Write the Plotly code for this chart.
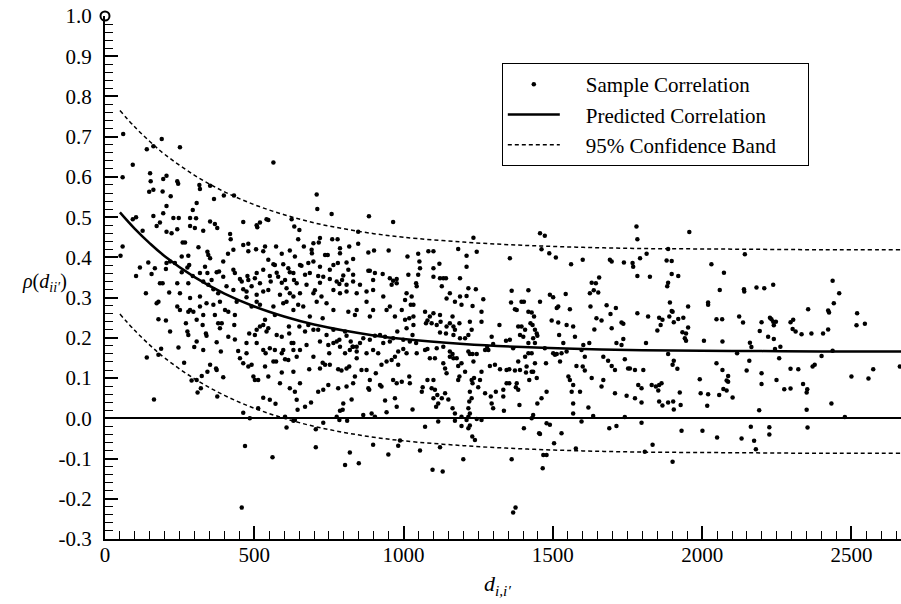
import plotly.graph_objects as go

# ---------------- data ----------------
# Sample correlations, (distance d_ii', rho) pairs, grouped by distance range
samples_0_1000_upper = [
    (61,0.707),(59,0.599),(93,0.630),(140,0.669),(162,0.676),(190,0.694),(251,0.674),(151,0.609),(153,0.589),(195,0.595),
    (206,0.603),(162,0.568),(148,0.563),(193,0.564),(220,0.552),(242,0.589),(245,0.583),(316,0.580),(318,0.570),(352,0.578),
    (564,0.636),(365,0.545),(398,0.554),(432,0.554),(709,0.556),(711,0.520),(307,0.535),(294,0.518),(206,0.528),(195,0.510),
    (162,0.503),(93,0.495),(104,0.500),(126,0.466),(184,0.487),(173,0.478),(206,0.464),(223,0.460),(229,0.498),(247,0.498),
    (242,0.470),(285,0.498),(305,0.497),(285,0.478),(301,0.473),(352,0.489),(368,0.483),(376,0.473),(329,0.466),(419,0.458),
    (421,0.445),(463,0.488),(508,0.480),(519,0.487),(541,0.495),(547,0.493),(510,0.475),(625,0.495),(634,0.477),(651,0.468),
    (647,0.445),(698,0.435),(720,0.448),(716,0.437),(759,0.508),(761,0.445),(779,0.445),(787,0.423),(848,0.464),(884,0.502),
    (965,0.488),(848,0.434),(882,0.412),(901,0.417),(950,0.417),(59,0.427),(52,0.404),(117,0.375),(145,0.387),(104,0.354),
    (156,0.359),(167,0.373),(184,0.336),(193,0.336),(206,0.386),(204,0.371),(218,0.390),(234,0.386),(257,0.402),(260,0.437),
    (268,0.437),(313,0.425),(343,0.414),(346,0.406),(352,0.398),(335,0.377),(279,0.404),(282,0.381),(276,0.375),(294,0.354),
    (257,0.363),(242,0.336),(215,0.313),(251,0.311),(137,0.311),(279,0.336),(343,0.361),(357,0.344),(374,0.363),(382,0.365),
    (396,0.390),(412,0.409),(430,0.419),(463,0.431),(480,0.434),(480,0.415),(506,0.420),(530,0.415),(536,0.427),(547,0.394),
    (573,0.427),(592,0.409),(619,0.417),(636,0.402),(666,0.427),(692,0.419),(693,0.410),(737,0.406),(746,0.406),(787,0.410),
    (818,0.427),(831,0.396),(564,0.383),(569,0.381),(597,0.383),(614,0.373),(631,0.361),(653,0.381),(658,0.379),(681,0.386),
    (698,0.390),(720,0.377),(753,0.369),(765,0.381),(780,0.386),(809,0.387),(815,0.369),(798,0.355),(831,0.357),(882,0.367),
    (887,0.367),(904,0.361),(930,0.359),(954,0.348),(965,0.342),(977,0.346),(430,0.369),(435,0.361),(452,0.346),(458,0.340),
    (477,0.354),(480,0.344),(502,0.348),(508,0.361),(519,0.336),(530,0.369),(552,0.354),(555,0.340),(575,0.362),(580,0.352),
    (592,0.337),(603,0.344),(619,0.363),(633,0.344),(642,0.336),(670,0.357),(686,0.361),(714,0.354),(720,0.337),(731,0.352),
    (753,0.346),(776,0.340),(785,0.334),(794,0.344),(809,0.332),(831,0.340),(854,0.332),(898,0.344),(318,0.361),(329,0.340),
    (346,0.332),(363,0.321),(379,0.311),(396,0.352),(407,0.328),(430,0.319),(463,0.321),(474,0.315),(491,0.328),(508,0.307),
    (530,0.315),(547,0.319),(586,0.307),(608,0.323),(619,0.311),(631,0.303),(653,0.311),(675,0.332),(698,0.311),(703,0.318),
    (725,0.303),(765,0.319),(787,0.311),(809,0.315),(843,0.311),(876,0.315),(898,0.319),(932,0.303),(960,0.332),(977,0.336),
    (318,0.303),(285,0.299),(474,0.301),
]

samples_0_1000_lower = [
    (179,0.290),(173,0.286),(242,0.278),(251,0.269),(279,0.265),(285,0.269),(296,0.265),(318,0.278),(329,0.257),(340,0.286),
    (363,0.282),(368,0.257),(385,0.290),(402,0.269),(413,0.265),(435,0.257),(441,0.290),(491,0.278),(508,0.290),(519,0.282),
    (564,0.278),(569,0.257),(597,0.286),(608,0.290),(631,0.269),(647,0.282),(664,0.278),(686,0.253),(709,0.290),(742,0.286),
    (765,0.269),(815,0.265),(837,0.257),(843,0.269),(876,0.290),(887,0.253),(898,0.269),(943,0.269),(954,0.278),(971,0.253),
    (179,0.246),(204,0.243),(218,0.216),(271,0.236),(276,0.216),(279,0.207),(307,0.245),(327,0.232),(338,0.211),(340,0.205),
    (379,0.236),(385,0.224),(391,0.236),(413,0.203),(433,0.232),(435,0.196),(483,0.211),(502,0.207),(508,0.220),(519,0.228),
    (530,0.232),(536,0.245),(541,0.216),(547,0.224),(575,0.207),(592,0.203),(616,0.228),(617,0.211),(631,0.187),(651,0.228),
    (670,0.216),(681,0.232),(698,0.220),(714,0.220),(729,0.249),(742,0.207),(765,0.220),(785,0.195),(804,0.216),(809,0.205),
    (823,0.191),(829,0.178),(843,0.178),(865,0.199),(887,0.195),(904,0.205),(921,0.207),(938,0.203),(954,0.191),(965,0.199),
    (979,0.216),(246,0.176),(188,0.173),(140,0.151),(179,0.158),(307,0.191),(299,0.177),(329,0.170),(374,0.189),(388,0.166),
    (446,0.167),(474,0.187),(474,0.162),(508,0.187),(530,0.170),(538,0.162),(552,0.174),(569,0.170),(573,0.141),(592,0.162),
    (597,0.170),(603,0.147),(614,0.145),(625,0.187),(631,0.170),(642,0.153),(653,0.170),(675,0.182),(698,0.153),(720,0.191),
    (748,0.182),(751,0.162),(765,0.187),(776,0.191),(787,0.178),(804,0.162),(820,0.170),(831,0.178),(843,0.166),(854,0.187),
    (876,0.162),(898,0.170),(915,0.162),(932,0.187),(960,0.145),(971,0.153),(982,0.166),(265,0.138),(352,0.133),(372,0.124),
    (374,0.120),(343,0.116),(324,0.105),(290,0.094),(307,0.095),(396,0.102),(452,0.149),(463,0.137),(480,0.129),(491,0.133),
    (497,0.104),(502,0.095),(513,0.095),(536,0.129),(547,0.104),(564,0.141),(592,0.114),(631,0.116),(653,0.087),(684,0.122),
    (720,0.124),(729,0.138),(737,0.133),(753,0.133),(781,0.122),(792,0.119),(809,0.124),(818,0.129),(837,0.104),(843,0.149),
    (859,0.120),(876,0.120),(887,0.095),(907,0.112),(926,0.133),(943,0.141),(965,0.095),(977,0.087),(982,0.133),(321,0.075),
    (310,0.064),(376,0.054),(463,0.014),(485,0.000),(513,0.025),(530,0.051),(552,0.046),(571,0.036),(586,0.087),(603,0.004),
    (619,0.075),(636,0.066),(642,0.046),(645,0.021),(670,0.029),(690,0.039),(714,0.066),(731,0.071),(748,0.083),(776,0.004),
    (781,0.075),(787,0.019),(796,0.021),(798,0.037),(809,0.079),(826,0.047),(831,0.087),(865,0.008),(882,0.075),(885,0.071),
    (893,0.012),(904,0.004),(921,0.083),(926,0.079),(938,0.044),(943,0.015),(971,0.050),(977,0.029),(164,0.047),(608,-0.023),
    (636,-0.004),(706,-0.027),(731,-0.011),(785,-0.004),(811,-0.006),(469,-0.069),(561,-0.097),(706,-0.072),(804,-0.116),
    (820,-0.085),(850,-0.112),(898,-0.066),(949,-0.090),(982,-0.068),(631,-0.006),(458,-0.222),
]

samples_1000_1825 = [
    (1457,0.460),(1473,0.454),(1780,0.477),(1783,0.445),(1234,0.449),(1211,0.404),(1245,0.414),(1183,0.421),(1013,0.402),(1049,0.409),
    (1053,0.390),(1055,0.373),(1049,0.357),(1016,0.357),(1100,0.373),(1120,0.384),(1083,0.415),(1100,0.415),(1133,0.348),(1142,0.348),
    (1122,0.348),(1128,0.328),(1100,0.352),(1042,0.336),(1044,0.328),(1010,0.311),(1027,0.303),(1033,0.282),(1005,0.294),(1024,0.282),
    (994,0.269),(1033,0.253),(1019,0.249),(1005,0.245),(1033,0.232),(1010,0.224),(1030,0.207),(1042,0.187),(999,0.195),(1021,0.191),
    (1072,0.265),(1088,0.253),(1080,0.243),(1100,0.261),(1075,0.236),(1094,0.236),(1111,0.232),(1122,0.257),(1124,0.240),(1144,0.228),
    (1122,0.213),(1142,0.211),(1155,0.236),(1164,0.253),(1167,0.228),(1172,0.220),(1167,0.207),(1144,0.298),(1155,0.311),(1172,0.290),
    (1189,0.303),(1194,0.282),(1211,0.304),(1217,0.323),(1242,0.321),(1231,0.279),(1261,0.265),(1261,0.240),(1267,0.296),(1222,0.240),
    (1217,0.207),(1228,0.220),(1206,0.199),(1187,0.236),(1189,0.199),(1189,0.348),(1211,0.377),(1133,0.178),(1111,0.174),(1105,0.149),
    (1088,0.149),(1080,0.172),(1072,0.170),(1044,0.162),(1010,0.162),(999,0.172),(994,0.091),(1021,0.087),(1019,0.104),(1064,0.077),
    (1061,0.066),(1080,0.095),(1100,0.095),(1094,0.075),(1105,0.071),(1113,0.058),(1100,0.050),(1116,0.037),(1109,0.029),(1128,0.050),
    (1139,0.062),(1150,0.047),(1164,0.025),(1172,0.012),(1030,0.022),(1072,-0.021),(1116,-0.008),(1172,-0.006),(1194,-0.019),(1217,-0.025),
    (1222,-0.018),(1211,-0.004),(1245,-0.002),(1261,-0.004),(1194,0.004),(1230,-0.045),(1239,-0.054),(1055,-0.080),(1122,-0.072),(1200,-0.102),
    (1097,-0.128),(1131,-0.132),(988,-0.055),(1133,0.137),(1139,0.124),(1144,0.112),(1155,0.166),(1155,0.153),(1164,0.160),(1167,0.149),
    (1178,0.149),(1183,0.130),(1194,0.137),(1187,0.104),(1183,0.095),(1206,0.116),(1217,0.166),(1222,0.160),(1231,0.160),(1234,0.141),
    (1245,0.160),(1261,0.116),(1228,0.095),(1231,0.087),(1236,0.100),(1256,0.095),(1250,0.077),(1222,0.066),(1228,0.050),(1220,0.042),
    (1217,0.025),(1222,0.012),(1217,0.004),(1273,0.062),(1292,0.054),(1295,0.037),(1300,0.025),(1309,0.066),(1334,0.071),(1334,0.054),
    (1336,0.019),(1345,0.087),(1354,0.087),(1376,0.077),(1384,0.071),(1388,0.033),(1379,0.087),(1289,0.130),(1306,0.133),(1323,0.122),
    (1345,0.120),(1354,0.122),(1373,0.119),(1384,0.141),(1390,0.120),(1407,0.153),(1412,0.129),(1410,0.114),(1421,0.095),(1429,0.116),
    (1434,0.116),(1446,0.100),(1440,0.137),(1429,0.162),(1418,0.162),(1367,0.174),(1356,0.195),(1343,0.193),(1321,0.232),(1295,0.203),
    (1280,0.178),(1273,0.170),(1284,0.170),(1300,0.185),(1362,0.317),(1360,0.288),(1373,0.271),(1379,0.269),(1395,0.290),(1403,0.290),
    (1418,0.318),(1418,0.265),(1429,0.263),(1437,0.253),(1425,0.236),(1432,0.232),(1440,0.220),(1446,0.211),(1448,0.205),(1434,0.199),
    (1440,0.187),(1418,0.187),(1384,0.228),(1395,0.228),(1390,0.207),(1401,0.203),(1407,0.220),(1457,0.290),(1356,0.398),(1490,0.307),
    (1501,0.301),(1518,0.278),(1513,0.274),(1543,0.309),(1496,0.243),(1518,0.238),(1546,0.232),(1557,0.271),(1568,0.228),(1535,0.187),
    (1521,0.207),(1574,0.203),(1473,0.174),(1501,0.162),(1513,0.160),(1529,0.162),(1524,0.141),(1507,0.158),(1477,0.137),(1546,0.166),
    (1552,0.104),(1557,0.095),(1568,0.083),(1563,0.066),(1591,0.066),(1568,0.037),(1568,0.012),(1600,0.129),(1579,0.130),(1607,0.119),
    (1607,0.153),(1596,0.170),(1622,0.187),(1596,-0.008),(1635,0.006),(1619,0.027),(1479,0.066),(1462,0.050),(1448,0.037),(1434,0.008),
    (1429,0.000),(1479,-0.012),(1490,-0.016),(1454,-0.037),(1457,-0.039),(1504,-0.062),(1529,-0.037),(1468,-0.091),(1479,-0.091),(1466,-0.124),
    (1577,-0.075),(1362,-0.102),(1403,-0.025),(1561,0.383),(1600,0.394),(1462,0.420),(1488,0.410),(1510,0.400),(1630,0.337),(1637,0.318),
    (1644,0.336),(1655,0.350),(1652,0.313),(1624,0.311),(1626,0.278),(1646,0.249),(1663,0.243),(1639,0.221),(1680,0.281),(1693,0.259),
    (1711,0.274),(1730,0.238),(1736,0.235),(1697,0.224),(1736,0.197),(1713,0.187),(1730,0.182),(1691,0.394),(1697,0.390),(1738,0.387),
    (1767,0.386),(1769,0.377),(1792,0.398),(1814,0.409),(1783,0.354),(1783,0.261),(1812,0.187),(1819,0.253),(1669,0.153),(1685,0.143),
    (1697,0.130),(1708,0.120),(1741,0.147),(1752,0.124),(1758,0.124),(1775,0.120),(1803,0.120),(1630,0.100),(1669,0.095),(1663,0.079),
    (1708,0.062),(1747,0.056),(1775,0.050),(1786,0.083),(1797,0.075),(1797,0.039),(1713,-0.019),(1689,-0.025),(1741,0.003),(1797,-0.011),
    (1808,-0.083),(1602,0.182),(1375,-0.222),(1367,-0.234),
]

samples_1825_2666 = [
    (1957,0.463),(1886,0.421),(2143,0.408),(1881,0.392),(1898,0.391),(2031,0.383),(2073,0.362),(1898,0.359),(1920,0.354),(1825,0.352),
    (1886,0.337),(1883,0.328),(2059,0.319),(2140,0.321),(2141,0.315),(2182,0.325),(2208,0.323),(2238,0.332),(2437,0.342),(2459,0.311),
    (1892,0.288),(1898,0.267),(1901,0.265),(1953,0.278),(2020,0.288),(2020,0.282),(1856,0.250),(1867,0.245),(1890,0.253),(1905,0.239),
    (1920,0.247),(1937,0.250),(1861,0.232),(1850,0.218),(1934,0.214),(1946,0.211),(1942,0.199),(1946,0.193),(1953,0.226),(2006,0.193),
    (2048,0.246),(2067,0.246),(2068,0.191),(2124,0.253),(2137,0.238),(2160,0.188),(2165,0.177),(2193,0.217),(2199,0.239),(2221,0.203),
    (2227,0.250),(2232,0.246),(2238,0.240),(2240,0.231),(2247,0.240),(2240,0.197),(2244,0.172),(2262,0.178),(2117,0.162),(2296,0.239),
    (2305,0.245),(2303,0.222),(2313,0.216),(2333,0.209),(2355,0.271),(2366,0.211),(2405,0.211),(2422,0.221),(2422,0.268),(2425,0.263),
    (2441,0.286),(2437,0.168),(2400,0.155),(2377,0.133),(2370,0.129),(2519,0.261),(2517,0.231),(2545,0.235),(1886,0.160),(1905,0.143),
    (1901,0.133),(1917,0.123),(2048,0.137),(2068,0.120),(2087,0.105),(2082,0.094),(2087,0.091),(2071,0.073),(2082,0.069),(2102,0.052),
    (2057,0.058),(1992,0.097),(1995,0.062),(2020,0.060),(2017,0.031),(2149,0.119),(2158,0.143),(2199,0.112),(2199,0.085),(2249,0.095),
    (2258,0.149),(2275,0.072),(2296,0.074),(2296,0.123),(2322,0.122),(2338,0.085),(2352,0.072),(2350,0.064),(2350,0.021),(2433,0.037),
    (2500,0.104),(2557,0.099),(2573,0.122),(2662,0.129),(1831,0.083),(1845,0.079),(1856,0.083),(1864,0.087),(1853,0.069),(1856,0.042),
    (1867,0.032),(1886,0.039),(1903,0.042),(1905,0.022),(1925,0.064),(1928,0.033),(2191,0.020),(2478,0.003),(1931,-0.031),(2001,-0.031),
    (2050,-0.048),(2132,-0.050),(2163,-0.021),(2174,-0.056),(2180,-0.077),(2225,-0.022),(2225,-0.040),(2353,-0.023),(1834,-0.066),(1901,-0.108),
]

# Point at zero distance (rho = 1)
origin_d = [0]
origin_rho = [1.0]

# Predicted correlation curve and its 95% confidence band
curve_d = [50, 100, 150, 200, 300, 400, 500, 600, 700, 800, 900, 1000,
           1200, 1400, 1600, 1800, 2000, 2200, 2400, 2666]
predicted_rho = [0.512, 0.471, 0.435, 0.403, 0.351, 0.310, 0.278, 0.253, 0.233, 0.218,
                 0.206, 0.197, 0.185, 0.177, 0.172, 0.169, 0.168, 0.167, 0.166, 0.166]
upper_rho = [0.765, 0.724, 0.688, 0.656, 0.604, 0.563, 0.531, 0.506, 0.486, 0.471,
             0.459, 0.450, 0.438, 0.430, 0.425, 0.422, 0.421, 0.420, 0.419, 0.419]
lower_rho = [0.259, 0.218, 0.182, 0.150, 0.098, 0.057, 0.025, 0.000, -0.020, -0.035,
             -0.047, -0.056, -0.068, -0.076, -0.081, -0.084, -0.085, -0.086, -0.087, -0.087]

# Axis ticks
x_tickvals = [0, 500, 1000, 1500, 2000, 2500]
x_ticktext = ["0", "500", "1000", "1500", "2000", "2500"]
y_tickvals = [-0.3, -0.2, -0.1, 0.0, 0.1, 0.2, 0.3, 0.4, 0.5, 0.6, 0.7, 0.8, 0.9, 1.0]
y_ticktext = ["-0.3", "-0.2", "-0.1", "0.0", "0.1", "0.2", "0.3", "0.4", "0.5",
              "0.6", "0.7", "0.8", "0.9", "1.0"]

# Legend labels
NB = "\u00a0"
legend_names = ["Sample Correlation", "Predicted Correlation", "95% Confidence Band"]

# ---------------- figure ----------------
all_samples = samples_0_1000_upper + samples_0_1000_lower + samples_1000_1825 + samples_1825_2666
sample_d = [p[0] for p in all_samples]
sample_rho = [p[1] for p in all_samples]

SERIF = "'Liberation Serif', Tinos, 'Times New Roman', 'DejaVu Serif', serif"

def lname(s):
    return NB * 4 + s + NB * 5

fig = go.Figure()
fig.add_trace(go.Scatter(
    x=sample_d, y=sample_rho, mode="markers", name=lname(legend_names[0]),
    marker=dict(color="black", size=4.5, line=dict(width=0)),
))
fig.add_trace(go.Scatter(
    x=curve_d, y=predicted_rho, mode="lines", name=lname(legend_names[1]),
    line=dict(color="black", width=2.5, shape="spline"),
))
fig.add_trace(go.Scatter(
    x=curve_d, y=upper_rho, mode="lines", name=lname(legend_names[2]),
    line=dict(color="black", width=1.5, dash="4px,3px", shape="spline"),
))
fig.add_trace(go.Scatter(
    x=curve_d, y=lower_rho, mode="lines", name=legend_names[2], showlegend=False,
    line=dict(color="black", width=1.5, dash="4px,3px", shape="spline"),
))
fig.add_trace(go.Scatter(
    x=origin_d, y=origin_rho, mode="markers", showlegend=False, cliponaxis=False,
    marker=dict(symbol="circle-open", size=9, color="black", line=dict(width=2, color="black")),
))

fig.update_xaxes(
    range=[0, 2666], showline=True, linecolor="black", linewidth=2,
    showgrid=False, zeroline=False,
    tickmode="array", tickvals=x_tickvals, ticktext=x_ticktext,
    ticks="inside", ticklen=13, tickwidth=1.5, tickcolor="black",
    minor=dict(ticks="inside", ticklen=8, tickwidth=1, tickcolor="black",
               tickmode="linear", tick0=0, dtick=50, showgrid=False),
    tickfont=dict(family=SERIF, size=21, color="black"),
    ticklabelstandoff=-4,
)
fig.update_yaxes(
    range=[-0.3, 1.0], showline=True, linecolor="black", linewidth=2,
    showgrid=False, zeroline=True, zerolinecolor="black", zerolinewidth=1.5,
    tickmode="array", tickvals=y_tickvals, ticktext=y_ticktext,
    ticks="inside", ticklen=13, tickwidth=1.5, tickcolor="black",
    minor=dict(ticks="inside", ticklen=8, tickwidth=1, tickcolor="black",
               tickmode="linear", tick0=0, dtick=0.02, showgrid=False),
    tickfont=dict(family=SERIF, size=21, color="black"),
    ticklabelstandoff=7,
)

fig.update_layout(
    width=901, height=604,
    margin=dict(l=105, r=0, t=16, b=65),
    paper_bgcolor="white", plot_bgcolor="white",
    font=dict(family=SERIF, color="black"),
    showlegend=True,
    legend=dict(
        x=0.4985, y=0.910, xanchor="left", yanchor="top",
        bgcolor="white", bordercolor="black", borderwidth=1,
        font=dict(family=SERIF, size=21, color="black"),
        itemwidth=52, tracegroupgap=0,
    ),
    annotations=[
        dict(text="<i>d</i><sub><i>i,i′</i></sub>", xref="paper", yref="paper",
             x=0.4937, y=-0.088, showarrow=False, xanchor="center", yanchor="middle",
             font=dict(family=SERIF, size=22, color="black")),
        dict(text="<i>ρ</i>(<i>d</i><sub><i>ii′</i></sub>)", xref="paper", yref="paper",
             x=-0.0754, y=0.4895, showarrow=False, xanchor="center", yanchor="middle",
             font=dict(family=SERIF, size=20, color="black")),
    ],
)

fig.write_html(
    "out.html",
    config={"displayModeBar": False},
    post_script="document.body.style.margin='0';document.body.style.padding='0';"
                "document.documentElement.style.overflow='hidden';",
)
